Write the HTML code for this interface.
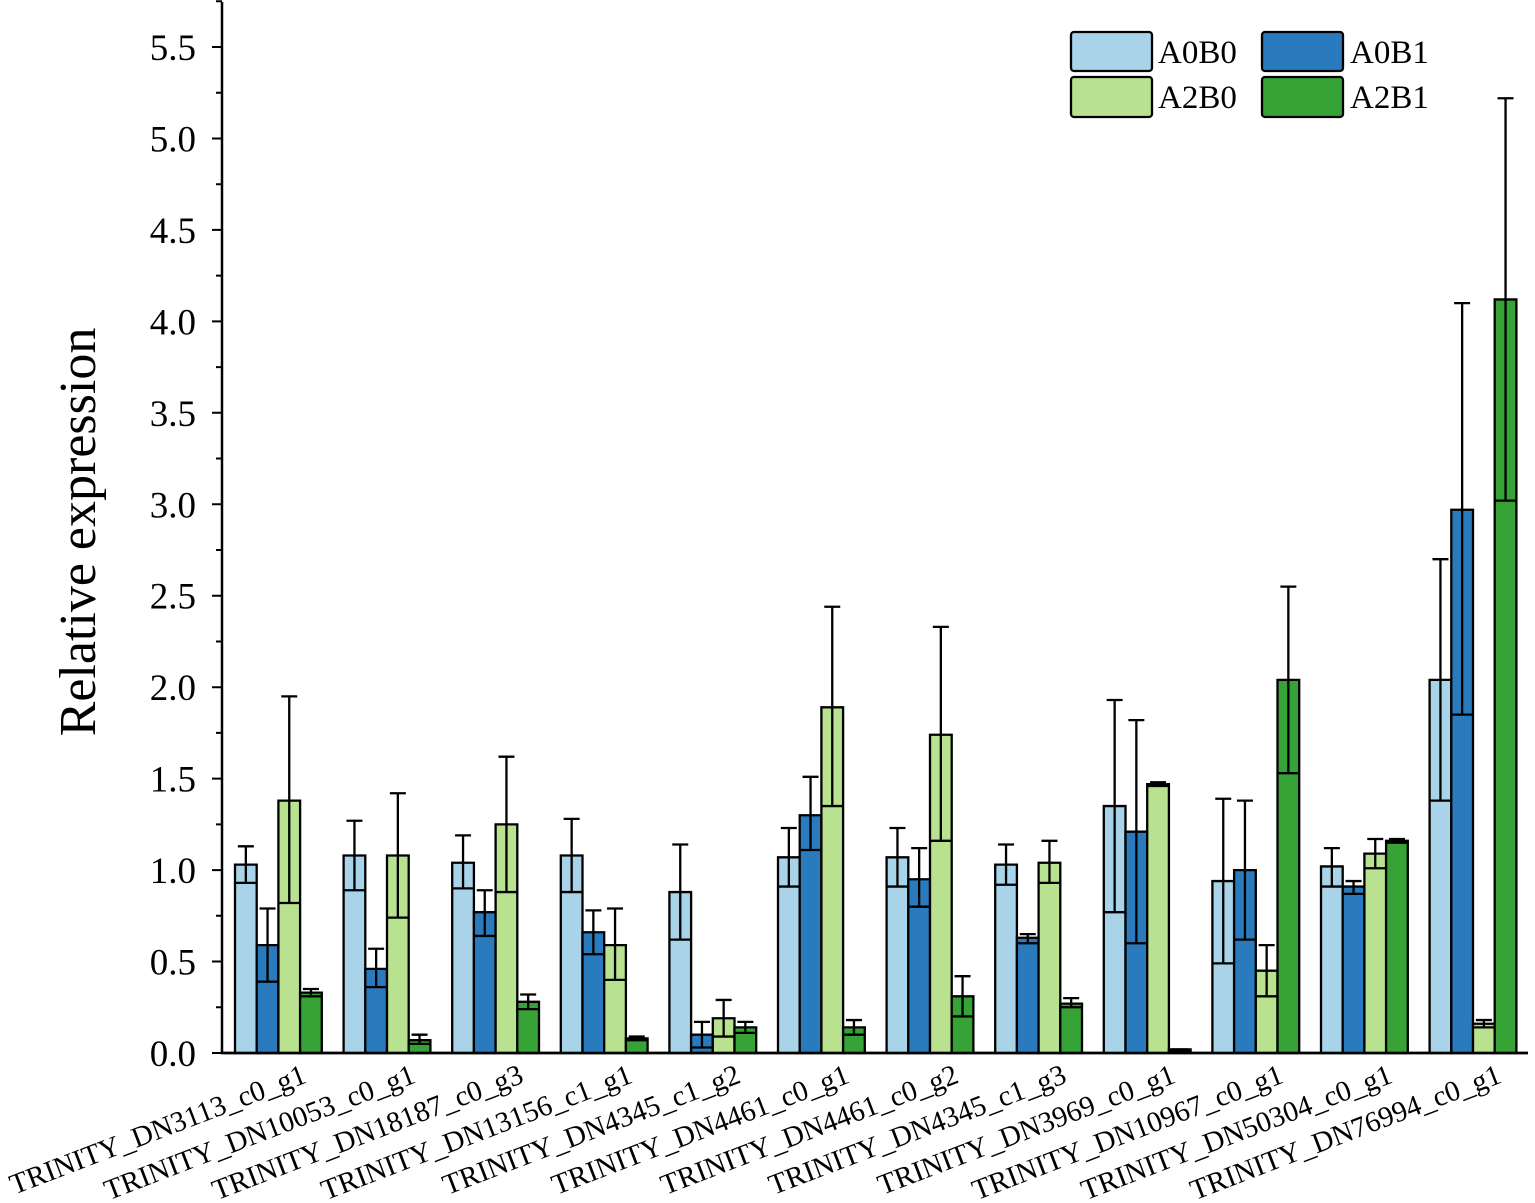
<!DOCTYPE html>
<html><head><meta charset="utf-8"><style>
html,body{margin:0;padding:0;background:#fff}
svg{display:block}
text{font-family:"Liberation Serif",serif;fill:#000}
.b rect,.b path{vector-effect:non-scaling-stroke;stroke:#000;stroke-width:2.3}
.b path{fill:none}
.a{fill:#a8d3e8}.c{fill:#2a7bbd}.d{fill:#b8e28f}.e{fill:#37a336}
</style></head><body>
<svg width="1535" height="1203" viewBox="0 0 1535 1203">
<path d="M222 2V1053H1528" fill="none" stroke="#000" stroke-width="2.5"/>
<g stroke="#000" stroke-width="2">
<path d="M212 1053H222M212 961.5H222M212 870.1H222M212 778.6H222M212 687.2H222M212 595.7H222M212 504.3H222M212 412.8H222M212 321.4H222M212 229.9H222M212 138.5H222M212 47H222"/>
<path d="M216 1007.3H222M216 915.8H222M216 824.4H222M216 732.9H222M216 641.5H222M216 550H222M216 458.5H222M216 367.1H222M216 275.6H222M216 184.2H222M216 92.7H222M216 1.3H222"/>
</g>
<g font-size="37" text-anchor="end">
<text x="196" y="1066">0.0</text><text x="196" y="974.5">0.5</text><text x="196" y="883">1.0</text><text x="196" y="791.6">1.5</text><text x="196" y="700.2">2.0</text><text x="196" y="608.7">2.5</text><text x="196" y="517.3">3.0</text><text x="196" y="425.8">3.5</text><text x="196" y="334.4">4.0</text><text x="196" y="242.9">4.5</text><text x="196" y="151.5">5.0</text><text x="196" y="60">5.5</text>
</g>
<text transform="translate(95,532) rotate(-90)" font-size="52" text-anchor="middle">Relative expression</text>

<g class="b">
<g transform="translate(235,1053) scale(1,-182.9)">
<rect class="a" x="0" width="21.7" height="1.03"/><path d="M10.85 .93V1.13M2.85 1.13H18.85M0 .93H21.7"/>
<rect class="c" x="21.7" width="21.7" height="0.59"/><path d="M32.55 .39V.79M24.55 .79H40.55M21.7 .39H43.4"/>
<rect class="d" x="43.4" width="21.7" height="1.38"/><path d="M54.25 .82V1.95M46.25 1.95H62.25M43.4 .82H65.1"/>
<rect class="e" x="65.1" width="21.7" height="0.33"/><path d="M75.95 .31V.35M67.95 .35H83.95M65.1 .31H86.8"/>
</g>
<g transform="translate(343.6,1053) scale(1,-182.9)">
<rect class="a" x="0" width="21.7" height="1.08"/><path d="M10.85 .89V1.27M2.85 1.27H18.85M0 .89H21.7"/>
<rect class="c" x="21.7" width="21.7" height="0.46"/><path d="M32.55 .36V.57M24.55 .57H40.55M21.7 .36H43.4"/>
<rect class="d" x="43.4" width="21.7" height="1.08"/><path d="M54.25 .74V1.42M46.25 1.42H62.25M43.4 .74H65.1"/>
<rect class="e" x="65.1" width="21.7" height="0.07"/><path d="M75.95 .05V.10M67.95 .10H83.95M65.1 .05H86.8"/>
</g>
<g transform="translate(452.2,1053) scale(1,-182.9)">
<rect class="a" x="0" width="21.7" height="1.04"/><path d="M10.85 .90V1.19M2.85 1.19H18.85M0 .90H21.7"/>
<rect class="c" x="21.7" width="21.7" height="0.77"/><path d="M32.55 .64V.89M24.55 .89H40.55M21.7 .64H43.4"/>
<rect class="d" x="43.4" width="21.7" height="1.25"/><path d="M54.25 .88V1.62M46.25 1.62H62.25M43.4 .88H65.1"/>
<rect class="e" x="65.1" width="21.7" height="0.28"/><path d="M75.95 .24V.32M67.95 .32H83.95M65.1 .24H86.8"/>
</g>
<g transform="translate(560.8,1053) scale(1,-182.9)">
<rect class="a" x="0" width="21.7" height="1.08"/><path d="M10.85 .88V1.28M2.85 1.28H18.85M0 .88H21.7"/>
<rect class="c" x="21.7" width="21.7" height="0.66"/><path d="M32.55 .54V.78M24.55 .78H40.55M21.7 .54H43.4"/>
<rect class="d" x="43.4" width="21.7" height="0.59"/><path d="M54.25 .40V.79M46.25 .79H62.25M43.4 .40H65.1"/>
<rect class="e" x="65.1" width="21.7" height="0.08"/><path d="M75.95 .07V.09M67.95 .09H83.95M65.1 .07H86.8"/>
</g>
<g transform="translate(669.4,1053) scale(1,-182.9)">
<rect class="a" x="0" width="21.7" height="0.88"/><path d="M10.85 .62V1.14M2.85 1.14H18.85M0 .62H21.7"/>
<rect class="c" x="21.7" width="21.7" height="0.10"/><path d="M32.55 .03V.17M24.55 .17H40.55M21.7 .03H43.4"/>
<rect class="d" x="43.4" width="21.7" height="0.19"/><path d="M54.25 .09V.29M46.25 .29H62.25M43.4 .09H65.1"/>
<rect class="e" x="65.1" width="21.7" height="0.14"/><path d="M75.95 .11V.17M67.95 .17H83.95M65.1 .11H86.8"/>
</g>
<g transform="translate(778,1053) scale(1,-182.9)">
<rect class="a" x="0" width="21.7" height="1.07"/><path d="M10.85 .91V1.23M2.85 1.23H18.85M0 .91H21.7"/>
<rect class="c" x="21.7" width="21.7" height="1.30"/><path d="M32.55 1.11V1.51M24.55 1.51H40.55M21.7 1.11H43.4"/>
<rect class="d" x="43.4" width="21.7" height="1.89"/><path d="M54.25 1.35V2.44M46.25 2.44H62.25M43.4 1.35H65.1"/>
<rect class="e" x="65.1" width="21.7" height="0.14"/><path d="M75.95 .10V.18M67.95 .18H83.95M65.1 .10H86.8"/>
</g>
<g transform="translate(886.6,1053) scale(1,-182.9)">
<rect class="a" x="0" width="21.7" height="1.07"/><path d="M10.85 .91V1.23M2.85 1.23H18.85M0 .91H21.7"/>
<rect class="c" x="21.7" width="21.7" height="0.95"/><path d="M32.55 .80V1.12M24.55 1.12H40.55M21.7 .80H43.4"/>
<rect class="d" x="43.4" width="21.7" height="1.74"/><path d="M54.25 1.16V2.33M46.25 2.33H62.25M43.4 1.16H65.1"/>
<rect class="e" x="65.1" width="21.7" height="0.31"/><path d="M75.95 .20V.42M67.95 .42H83.95M65.1 .20H86.8"/>
</g>
<g transform="translate(995.2,1053) scale(1,-182.9)">
<rect class="a" x="0" width="21.7" height="1.03"/><path d="M10.85 .92V1.14M2.85 1.14H18.85M0 .92H21.7"/>
<rect class="c" x="21.7" width="21.7" height="0.63"/><path d="M32.55 .60V.65M24.55 .65H40.55M21.7 .60H43.4"/>
<rect class="d" x="43.4" width="21.7" height="1.04"/><path d="M54.25 .93V1.16M46.25 1.16H62.25M43.4 .93H65.1"/>
<rect class="e" x="65.1" width="21.7" height="0.27"/><path d="M75.95 .25V.30M67.95 .30H83.95M65.1 .25H86.8"/>
</g>
<g transform="translate(1103.8,1053) scale(1,-182.9)">
<rect class="a" x="0" width="21.7" height="1.35"/><path d="M10.85 .77V1.93M2.85 1.93H18.85M0 .77H21.7"/>
<rect class="c" x="21.7" width="21.7" height="1.21"/><path d="M32.55 .60V1.82M24.55 1.82H40.55M21.7 .60H43.4"/>
<rect class="d" x="43.4" width="21.7" height="1.47"/><path d="M54.25 1.46V1.48M46.25 1.48H62.25M43.4 1.46H65.1"/>
<rect class="e" x="65.1" width="21.7" height="0.02"/><path d="M75.95 .01V.02M67.95 .02H83.95M65.1 .01H86.8"/>
</g>
<g transform="translate(1212.4,1053) scale(1,-182.9)">
<rect class="a" x="0" width="21.7" height="0.94"/><path d="M10.85 .49V1.39M2.85 1.39H18.85M0 .49H21.7"/>
<rect class="c" x="21.7" width="21.7" height="1.00"/><path d="M32.55 .62V1.38M24.55 1.38H40.55M21.7 .62H43.4"/>
<rect class="d" x="43.4" width="21.7" height="0.45"/><path d="M54.25 .31V.59M46.25 .59H62.25M43.4 .31H65.1"/>
<rect class="e" x="65.1" width="21.7" height="2.04"/><path d="M75.95 1.53V2.55M67.95 2.55H83.95M65.1 1.53H86.8"/>
</g>
<g transform="translate(1321,1053) scale(1,-182.9)">
<rect class="a" x="0" width="21.7" height="1.02"/><path d="M10.85 .91V1.12M2.85 1.12H18.85M0 .91H21.7"/>
<rect class="c" x="21.7" width="21.7" height="0.91"/><path d="M32.55 .87V.94M24.55 .94H40.55M21.7 .87H43.4"/>
<rect class="d" x="43.4" width="21.7" height="1.09"/><path d="M54.25 1.01V1.17M46.25 1.17H62.25M43.4 1.01H65.1"/>
<rect class="e" x="65.1" width="21.7" height="1.16"/><path d="M75.95 1.15V1.17M67.95 1.17H83.95M65.1 1.15H86.8"/>
</g>
<g transform="translate(1429.6,1053) scale(1,-182.9)">
<rect class="a" x="0" width="21.7" height="2.04"/><path d="M10.85 1.38V2.70M2.85 2.70H18.85M0 1.38H21.7"/>
<rect class="c" x="21.7" width="21.7" height="2.97"/><path d="M32.55 1.85V4.10M24.55 4.10H40.55M21.7 1.85H43.4"/>
<rect class="d" x="43.4" width="21.7" height="0.16"/><path d="M54.25 .14V.18M46.25 .18H62.25M43.4 .14H65.1"/>
<rect class="e" x="65.1" width="21.7" height="4.12"/><path d="M75.95 3.02V5.22M67.95 5.22H83.95M65.1 3.02H86.8"/>
</g>
</g>
<path d="M222 1053H1528" stroke="#000" stroke-width="2.5"/>

<g font-size="29" text-anchor="end">
<text transform="translate(308,1082) rotate(-21)">TRINITY_DN3113_c0_g1</text>
<text transform="translate(417,1082) rotate(-21)">TRINITY_DN10053_c0_g1</text>
<text transform="translate(525,1082) rotate(-21)">TRINITY_DN18187_c0_g3</text>
<text transform="translate(634,1082) rotate(-21)">TRINITY_DN13156_c1_g1</text>
<text transform="translate(742,1082) rotate(-21)">TRINITY_DN4345_c1_g2</text>
<text transform="translate(851,1082) rotate(-21)">TRINITY_DN4461_c0_g1</text>
<text transform="translate(960,1082) rotate(-21)">TRINITY_DN4461_c0_g2</text>
<text transform="translate(1068,1082) rotate(-21)">TRINITY_DN4345_c1_g3</text>
<text transform="translate(1177,1082) rotate(-21)">TRINITY_DN3969_c0_g1</text>
<text transform="translate(1285,1082) rotate(-21)">TRINITY_DN10967_c0_g1</text>
<text transform="translate(1394,1082) rotate(-21)">TRINITY_DN50304_c0_g1</text>
<text transform="translate(1503,1082) rotate(-21)">TRINITY_DN76994_c0_g1</text>
</g>

<g stroke="#000" stroke-width="2.3">
<rect x="1071" y="32" width="81" height="39" rx="3" fill="#a8d3e8"/>
<rect x="1262" y="32" width="81" height="39" rx="3" fill="#2a7bbd"/>
<rect x="1071" y="77" width="81" height="40" rx="3" fill="#b8e28f"/>
<rect x="1262" y="77" width="81" height="40" rx="3" fill="#37a336"/>
</g>
<g font-size="33">
<text x="1158" y="63">A0B0</text><text x="1350" y="63">A0B1</text>
<text x="1158" y="108">A2B0</text><text x="1350" y="108">A2B1</text>
</g>
</svg>
</body></html>
